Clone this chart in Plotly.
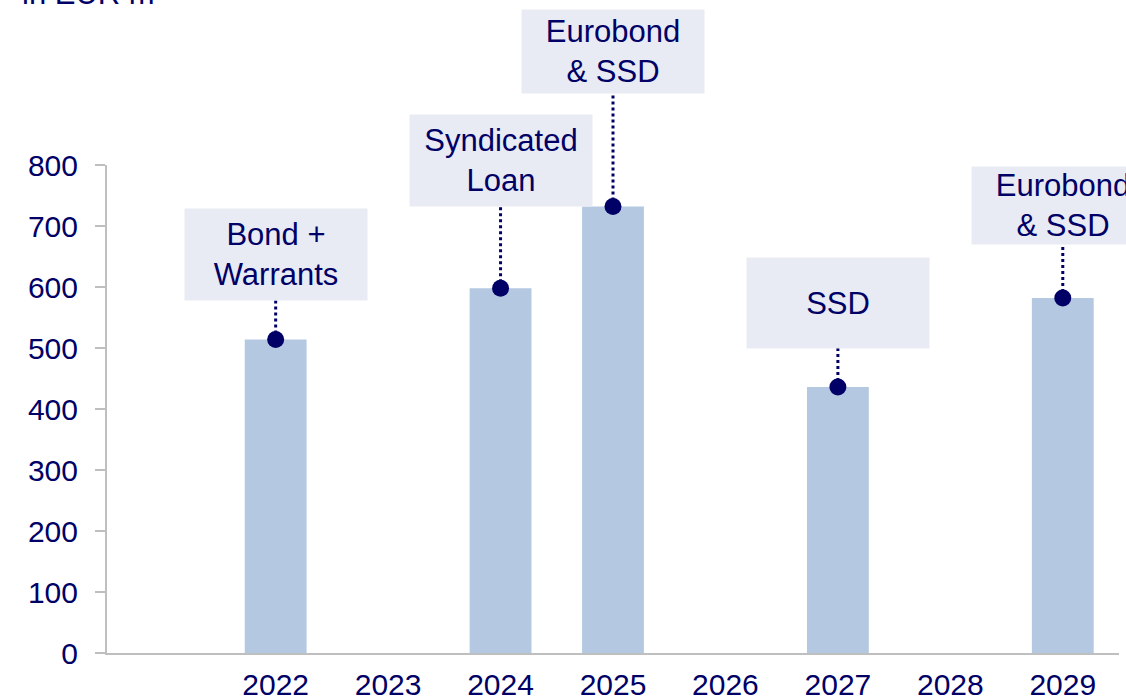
import plotly.graph_objects as go

# ---- data ----
years = [2022, 2023, 2024, 2025, 2026, 2027, 2028, 2029]
tick_labels = ["2022", "2023", "2024", "2025", "2026", "2027", "2028", "2029"]
bar_years = [2022, 2024, 2025, 2027, 2029]
bar_values = [514, 598, 732, 436, 582]
label_texts = ["Bond +<br>Warrants", "Syndicated<br>Loan", "Eurobond<br>& SSD", "SSD", "Eurobond<br>& SSD"]
y_ticks = [0, 100, 200, 300, 400, 500, 600, 700, 800]

# ---- layout helpers (positions / styles) ----
label_centers = [653, 807, 986, 574, 733]   # box centres, in axis units
label_heights = [91, 91, 83, 90, 77]        # px
box_width = 182
NAVY = "#000066"
BAR = "#B4C9E1"
BOX = "#E8EBF3"
AXIS = "#BFBFBF"
FONT = "Liberation Sans, Arial, sans-serif"

W, H = 1126, 696
ml, mr, mt, mb = 107, 7, 165, 43
plot_h = H - mt - mb
plot_w = W - ml - mr
ymax = 800
px_per_unit = plot_h / ymax

fig = go.Figure()
fig.add_trace(go.Bar(x=bar_years, y=bar_values, width=0.55, marker_color=BAR,
                     marker_line_width=0, hoverinfo="skip"))
fig.add_trace(go.Scatter(x=bar_years, y=bar_values, mode="markers",
                         marker=dict(size=17, color=NAVY), cliponaxis=False,
                         hoverinfo="skip"))

for yr, val, txt, c, h in zip(bar_years, bar_values, label_texts, label_centers, label_heights):
    fig.add_annotation(x=yr, y=c / ymax, xref="x", yref="paper", text=txt, showarrow=False,
                       xanchor="center", yanchor="middle",
                       width=box_width, height=h, bgcolor=BOX, borderpad=0,
                       font=dict(family=FONT, size=31, color=NAVY))
    bottom = c - (h / 2) / px_per_unit
    fig.add_shape(type="line", xref="x", yref="paper", x0=yr, x1=yr,
                  y0=val / ymax, y1=bottom / ymax,
                  line=dict(color=NAVY, width=3, dash="dot"), layer="below")

fig.add_annotation(xref="paper", yref="paper", x=(20 - ml) / plot_w, y=(plot_h + mt + 6) / plot_h,
                   text="in EUR m", showarrow=False, xanchor="left", yanchor="middle",
                   font=dict(family=FONT, size=31, color=NAVY))

fig.update_layout(
    width=W, height=H, margin=dict(l=ml, r=mr, t=mt, b=mb, autoexpand=False),
    paper_bgcolor="white", plot_bgcolor="white", showlegend=False,
    font=dict(family=FONT, size=30, color=NAVY),
    xaxis=dict(range=[2020.5, 2029.5], tickvals=years, ticktext=tick_labels,
               showgrid=False, zeroline=False, showline=True, linecolor=AXIS, linewidth=2,
               ticks="", tickfont=dict(size=30, color=NAVY), ticklabelstandoff=4),
    yaxis=dict(range=[0, ymax], tickvals=y_ticks, showgrid=False, zeroline=False,
               showline=True, linecolor=AXIS, linewidth=2, ticks="outside", ticklen=10,
               tickwidth=2, tickcolor=AXIS, tickfont=dict(size=30, color=NAVY),
               ticklabelstandoff=11),
)

fig.write_html("out.html", config={"displayModeBar": False},
               post_script="document.body.style.margin='0';document.body.style.overflow='hidden';")
